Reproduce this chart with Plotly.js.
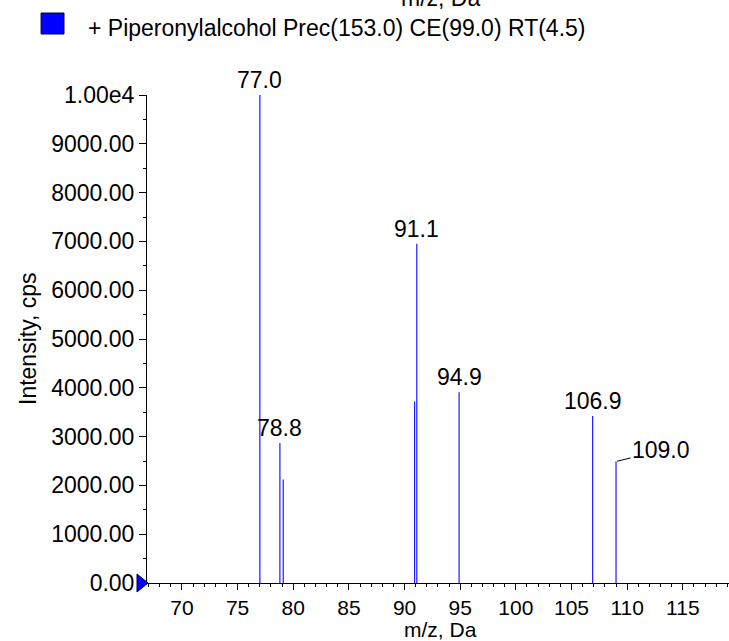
<!DOCTYPE html>
<html>
<head>
<meta charset="utf-8">
<script src="https://cdn.plot.ly/plotly-3.0.1.min.js"></script>
<style>
  html, body { margin: 0; padding: 0; background: #ffffff; }
  #chart { width: 729px; height: 641px; }
</style>
</head>
<body>
<div id="chart"></div>
<script>
// ---- data ----
var peakMz = [77.0, 78.8, 79.1, 90.9, 91.1, 94.9, 106.9, 109.0];
var peakIntensity = [10000, 2870, 2120, 3720, 6950, 3910, 3420, 2490];
var labelMz = [77.0, 78.8, 91.1, 94.9, 106.9];
var labelIntensity = [10000, 2870, 6950, 3910, 3420];
var labelText = ["77.0", "78.8", "91.1", "94.9", "106.9"];
var leaderMz = [109.0];
var leaderIntensity = [2490];
var leaderText = ["109.0"];
var yTickVals = [0, 1000, 2000, 3000, 4000, 5000, 6000, 7000, 8000, 9000, 10000];
var yTickText = ["0.00", "1000.00", "2000.00", "3000.00", "4000.00", "5000.00",
                 "6000.00", "7000.00", "8000.00", "9000.00", "1.00e4"];
var seriesName = "+ Piperonylalcohol Prec(153.0) CE(99.0) RT(4.5)";
var xTitle = "m/z, Da";
var yTitle = "Intensity, cps";

var FONT = "Liberation Sans, Arial, sans-serif";
var FS = 23;
var FSX = 21;

// stick spectrum built from arrays
var sx = [], sy = [];
for (var i = 0; i < peakMz.length; i++) {
  sx.push(peakMz[i], peakMz[i], null);
  sy.push(0, peakIntensity[i], null);
}

var traces = [{
  type: "scatter",
  mode: "lines",
  x: sx,
  y: sy,
  line: { color: "#1a1aff", width: 1.2 },
  hoverinfo: "skip",
  showlegend: false
}];

var annotations = [];
for (var j = 0; j < labelMz.length; j++) {
  annotations.push({
    x: labelMz[j], y: labelIntensity[j], xref: "x", yref: "y",
    text: labelText[j], showarrow: false,
    xanchor: "center", yanchor: "bottom",
    font: { family: FONT, size: FS, color: "#000000" }
  });
}
for (var k = 0; k < leaderMz.length; k++) {
  annotations.push({
    x: leaderMz[k], y: leaderIntensity[k], xref: "x", yref: "y",
    text: leaderText[k], showarrow: true, arrowhead: 0, arrowwidth: 1,
    arrowcolor: "#000000", ax: 45, ay: -11, standoff: 1,
    font: { family: FONT, size: FS, color: "#000000" }
  });
}
// legend text
annotations.push({
  x: -0.1048, y: 1.137, xref: "paper", yref: "paper",
  text: seriesName, showarrow: false, xanchor: "left", yanchor: "middle",
  font: { family: FONT, size: FS, color: "#000000" }
});
// partially visible title of the panel above
annotations.push({
  x: 0.505, y: 1.199, xref: "paper", yref: "paper",
  text: xTitle, showarrow: false, xanchor: "center", yanchor: "middle",
  font: { family: FONT, size: FS, color: "#000000" }
});
// axis titles
annotations.push({
  x: 0.505, y: -0.0963, xref: "paper", yref: "paper",
  text: xTitle, showarrow: false, xanchor: "center", yanchor: "middle",
  font: { family: FONT, size: 21, color: "#000000" }
});
annotations.push({
  x: -0.2045, y: 0.502, xref: "paper", yref: "paper",
  text: yTitle, showarrow: false, textangle: -90, xanchor: "center", yanchor: "middle",
  font: { family: FONT, size: FS, color: "#000000" }
});

var layout = {
  width: 729,
  height: 641,
  margin: { l: 147, r: 0, t: 95, b: 58, pad: 0 },
  paper_bgcolor: "#ffffff",
  plot_bgcolor: "#ffffff",
  showlegend: false,
  font: { family: FONT, size: FS, color: "#000000" },
  xaxis: {
    range: [66.86, 119.15],
    tickmode: "linear", tick0: 0, dtick: 5,
    ticks: "outside", ticklen: 6, tickwidth: 1, tickcolor: "#000000",
    minor: { tickmode: "linear", tick0: 0, dtick: 1, ticks: "outside", ticklen: 3, tickcolor: "#000000", showgrid: false },
    showline: true, linecolor: "#000000", linewidth: 1,
    showgrid: false, zeroline: false,
    tickfont: { family: FONT, size: FSX, color: "#000000" },
    automargin: false
  },
  yaxis: {
    range: [0, 10000],
    tickmode: "array", tickvals: yTickVals, ticktext: yTickText,
    ticks: "outside", ticklen: 7, tickwidth: 1, tickcolor: "#000000",
    minor: { tickmode: "linear", tick0: 0, dtick: 500, ticks: "outside", ticklen: 3, tickcolor: "#000000", showgrid: false },
    showline: true, linecolor: "#000000", linewidth: 1,
    showgrid: false, zeroline: false,
    tickfont: { family: FONT, size: FS, color: "#000000" },
    automargin: false
  },
  annotations: annotations,
  shapes: [
    { // legend swatch
      type: "rect", xref: "paper", yref: "paper",
      x0: -0.182, x1: -0.1426, y0: 1.125, y1: 1.168,
      fillcolor: "#0000ff", line: { color: "#000033", width: 1 }
    },
    { // zero-level marker
      type: "path", xref: "paper", yref: "paper",
      xsizemode: "pixel", ysizemode: "pixel", xanchor: 0, yanchor: 0,
      path: "M-10,-9 L1,0 L-10,9 Z",
      fillcolor: "#0000ff", line: { color: "#000044", width: 1 }
    }
  ]
};

Plotly.newPlot("chart", traces, layout, { displayModeBar: false, staticPlot: true });
</script>
</body>
</html>
